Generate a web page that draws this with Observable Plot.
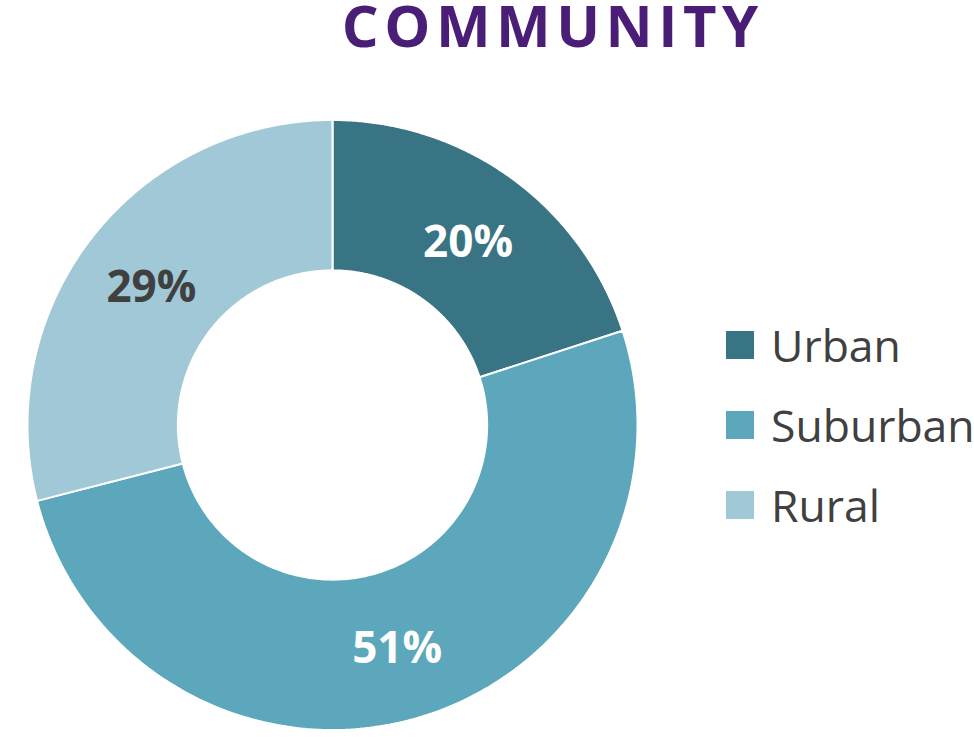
<!DOCTYPE html>
<html>
<head>
<meta charset="utf-8">
<script src="https://cdn.jsdelivr.net/npm/d3@7"></script>
<script src="https://cdn.jsdelivr.net/npm/@observablehq/plot@0.6"></script>
<style>
  html, body { margin: 0; padding: 0; background: #fff; }
  #wrap { position: relative; width: 974px; height: 744px; overflow: hidden; font-family: "Open Sans", sans-serif; }
  #title { position: absolute; top: 2px; left: 150px; width: 800px; text-align: center;
           font-size: 58px; line-height: 0.8; font-weight: 700; color: #4A1D77; letter-spacing: 5.5px;
           text-indent: 5.5px; }
  #chart { position: absolute; top: 90px; left: 0; }
  #legend { position: absolute; left: 726px; top: 305px; }
  .row { display: flex; align-items: center; height: 80px; }
  .sw { width: 28px; height: 28px; margin-right: 17px; }
  .lab { font-size: 44.5px; color: #404040; line-height: 1; }
</style>
</head>
<body>
<div id="wrap">
  <div id="title">COMMUNITY</div>
  <div id="chart"></div>
  <div id="legend"></div>
</div>
<script>
// ---- data ----
const categories = ["Urban", "Suburban", "Rural"];
const shares = [20, 51, 29];
const colors = ["#387483", "#5CA7BC", "#A0C8D6"];
const labelColors = ["#ffffff", "#ffffff", "#404040"];
const holeRatio = 0.507;

// ---- geometry derived from data (fractions -> angles, clockwise from top) ----
const total = d3.sum(shares);
const slices = [];
let acc = 0;
categories.forEach((c, i) => {
  const a0 = acc / total * 2 * Math.PI;
  acc += shares[i];
  const a1 = acc / total * 2 * Math.PI;
  slices.push({category: c, share: shares[i], a0, a1, labelColor: labelColors[i]});
});

const ring = [];
for (const s of slices) {
  const n = 200;
  for (let k = 0; k <= n; k++) {
    const a = s.a0 + (s.a1 - s.a0) * k / n;
    ring.push({
      category: s.category,
      ox: Math.sin(a), oy: Math.cos(a),
      ix: holeRatio * Math.sin(a), iy: holeRatio * Math.cos(a)
    });
  }
}

const rm = (1 + holeRatio) / 2;
const labels = slices.map(s => {
  const am = (s.a0 + s.a1) / 2;
  return {...s, x: rm * Math.sin(am), y: rm * Math.cos(am), text: s.share + "%"};
});

const chart = Plot.plot({
  width: 670,
  height: 654,
  x: {domain: [-1, 1], range: [27.5, 637.5], axis: null},
  y: {domain: [-1, 1], range: [640, 30], axis: null},
  color: {domain: categories, range: colors},
  style: {fontFamily: "'Open Sans', sans-serif", background: "transparent"},
  marks: [
    Plot.area(ring, {x1: "ox", y1: "oy", x2: "ix", y2: "iy", fill: "category", z: "category",
                     stroke: "white", strokeWidth: 2, strokeLinejoin: "miter"}),
    Plot.text(labels, {x: "x", y: "y", text: "text", dy: 3,
                       filter: d => d.labelColor === "#ffffff",
                       fill: "#ffffff", fontSize: 44, fontWeight: "bold"}),
    Plot.text(labels, {x: "x", y: "y", text: "text", dy: 3,
                       filter: d => d.labelColor !== "#ffffff",
                       fill: "#404040", fontSize: 44, fontWeight: "bold"})
  ]
});
document.getElementById("chart").appendChild(chart);

// ---- legend ----
const legend = document.getElementById("legend");
categories.forEach((c, i) => {
  const row = document.createElement("div");
  row.className = "row";
  const sw = document.createElement("div");
  sw.className = "sw";
  sw.style.background = colors[i];
  const lab = document.createElement("div");
  lab.className = "lab";
  lab.textContent = c;
  row.appendChild(sw);
  row.appendChild(lab);
  legend.appendChild(row);
});
</script>
</body>
</html>
